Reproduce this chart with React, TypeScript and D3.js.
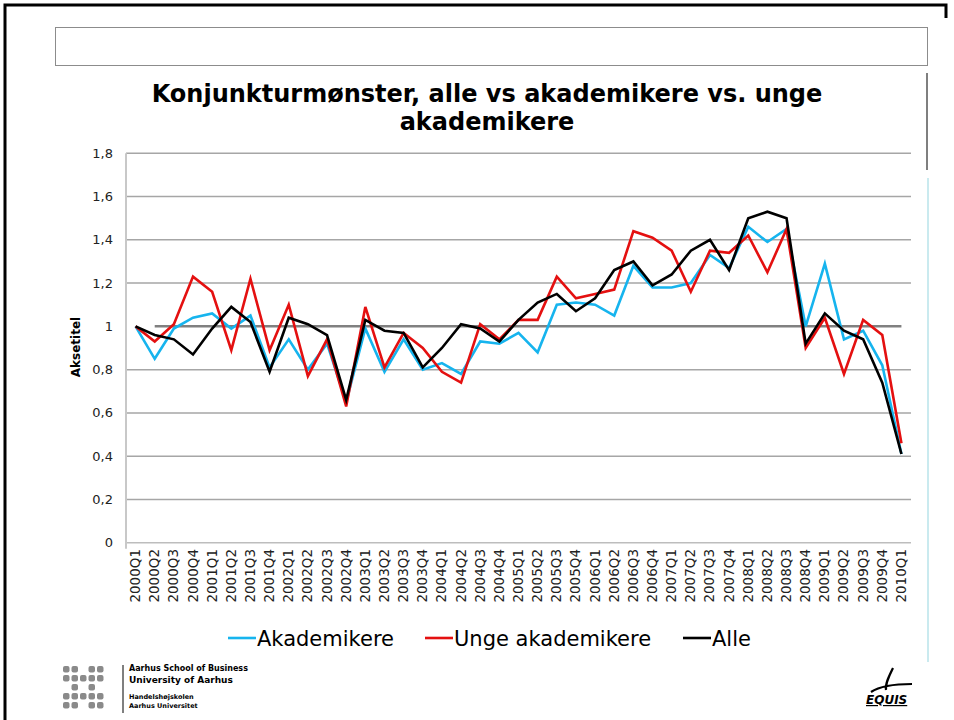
import React, { useEffect, useRef } from "react";
import * as d3 from "d3";

const quarters = [
  "2000Q1", "2000Q2", "2000Q3", "2000Q4", "2001Q1", "2001Q2", "2001Q3", "2001Q4",
  "2002Q1", "2002Q2", "2002Q3", "2002Q4", "2003Q1", "2003Q2", "2003Q3", "2003Q4",
  "2004Q1", "2004Q2", "2004Q3", "2004Q4", "2005Q1", "2005Q2", "2005Q3", "2005Q4",
  "2006Q1", "2006Q2", "2006Q3", "2006Q4", "2007Q1", "2007Q2", "2007Q3", "2007Q4",
  "2008Q1", "2008Q2", "2008Q3", "2008Q4", "2009Q1", "2009Q2", "2009Q3", "2009Q4",
  "2010Q1"
];

const akademikere = [
  1.0, 0.85, 0.99, 1.04, 1.06, 0.99, 1.05, 0.81, 0.94, 0.8, 0.92, 0.65, 0.99, 0.79,
  0.94, 0.8, 0.83, 0.78, 0.93, 0.92, 0.97, 0.88, 1.1, 1.11, 1.1, 1.05, 1.28, 1.18,
  1.18, 1.2, 1.33, 1.27, 1.46, 1.39, 1.45, 1.0, 1.29, 0.94, 0.98, 0.82, 0.41
];

const ungeAkademikere = [
  1.0, 0.93, 1.01, 1.23, 1.16, 0.89, 1.22, 0.89, 1.1, 0.77, 0.94, 0.63, 1.09, 0.81,
  0.97, 0.9, 0.79, 0.74, 1.01, 0.94, 1.03, 1.03, 1.23, 1.13, 1.15, 1.17, 1.44, 1.41,
  1.35, 1.16, 1.35, 1.34, 1.42, 1.25, 1.45, 0.9, 1.04, 0.78, 1.03, 0.96, 0.46
];

const alle = [
  1.0, 0.96, 0.94, 0.87, 0.99, 1.09, 1.02, 0.79, 1.04, 1.01, 0.96, 0.66, 1.03, 0.98,
  0.97, 0.81, 0.9, 1.01, 0.99, 0.93, 1.03, 1.11, 1.15, 1.07, 1.13, 1.26, 1.3, 1.19,
  1.24, 1.35, 1.4, 1.26, 1.5, 1.53, 1.5, 0.92, 1.06, 0.98, 0.94, 0.74, 0.41
];

// reference line at 1, starts at the second quarter
const referanse = quarters.map((q, i) => (i === 0 ? null : 1));

const yTicks = [0, 0.2, 0.4, 0.6, 0.8, 1.0, 1.2, 1.4, 1.6, 1.8];

const series = [
  { name: "Akademikere", values: akademikere, colour: "#16b4ee" },
  { name: "Unge akademikere", values: ungeAkademikere, colour: "#e41010" },
  { name: "Alle", values: alle, colour: "#000000" }
];

const font = "'DejaVu Sans', Verdana, sans-serif";

function App() {
  const svgRef = useRef<SVGSVGElement | null>(null);

  useEffect(() => {
    const svg = d3.select(svgRef.current);
    svg.selectAll("*").remove();

    const left = 126, right = 911, top = 153.3, bottom = 542.7;

    const x = d3.scaleBand().domain(quarters).range([left, right]);
    const y = d3.scaleLinear().domain([0, 1.8]).range([bottom, top]);
    const cx = (q: string) => (x(q) as number) + x.bandwidth() / 2;

    // slide frame
    svg.append("path")
      .attr("d", "M5,720 V5 H946 V18")
      .attr("fill", "none")
      .attr("stroke", "#000")
      .attr("stroke-width", 3);
    svg.append("rect")
      .attr("x", 55.5).attr("y", 27.5).attr("width", 872).attr("height", 38)
      .attr("fill", "none").attr("stroke", "#8c8c8c").attr("stroke-width", 1);
    svg.append("line")
      .attr("x1", 927).attr("x2", 927).attr("y1", 73).attr("y2", 170)
      .attr("stroke", "#555").attr("stroke-width", 1.5);
    svg.append("line")
      .attr("x1", 928).attr("x2", 928).attr("y1", 178).attr("y2", 662)
      .attr("stroke", "#b9e3ea").attr("stroke-width", 1.5);

    // title
    const title = svg.append("text")
      .attr("text-anchor", "middle")
      .attr("font-family", font)
      .attr("font-weight", "bold")
      .attr("font-size", 24)
      .attr("fill", "#000");
    title.append("tspan").attr("x", 487).attr("y", 102)
      .text("Konjunkturmønster, alle vs akademikere vs. unge");
    title.append("tspan").attr("x", 487).attr("y", 130).text("akademikere");

    // gridlines (no line at 1, the reference series sits there)
    svg.append("g")
      .selectAll("line")
      .data(yTicks.filter(t => t !== 1.0))
      .enter()
      .append("line")
      .attr("x1", left).attr("x2", right)
      .attr("y1", d => y(d)).attr("y2", d => y(d))
      .attr("stroke", d => (d === 0 ? "#bdbdbd" : "#a6a6a6"))
      .attr("stroke-width", 1.5);

    svg.append("line")
      .attr("x1", left).attr("x2", left).attr("y1", top).attr("y2", bottom + 6)
      .attr("stroke", "#c8c8c8").attr("stroke-width", 2);

    // y tick labels
    svg.append("g")
      .selectAll("text")
      .data(yTicks)
      .enter()
      .append("text")
      .attr("x", 113)
      .attr("y", d => y(d) + 4.5)
      .attr("text-anchor", "end")
      .attr("font-family", font)
      .attr("font-size", 13)
      .attr("fill", "#222")
      .text(d => (d === 0 ? "0" : d3.format(".1f")(d).replace(".", ",").replace(",0", "")));

    svg.append("text")
      .attr("transform", "translate(80,347) rotate(-90)")
      .attr("text-anchor", "middle")
      .attr("font-family", font)
      .attr("font-weight", "bold")
      .attr("font-size", 12)
      .text("Aksetitel");

    // x tick labels
    svg.append("g")
      .selectAll("text")
      .data(quarters)
      .enter()
      .append("text")
      .attr("transform", d => `translate(${cx(d) + 4.5},549) rotate(-90)`)
      .attr("text-anchor", "end")
      .attr("font-family", font)
      .attr("font-size", 13.5)
      .attr("fill", "#222")
      .text(d => d);

    const line = d3.line<number | null>()
      .defined(d => d !== null)
      .x((d, i) => cx(quarters[i]))
      .y(d => y(d as number));

    svg.append("path")
      .attr("d", line(referanse))
      .attr("fill", "none")
      .attr("stroke", "#808080")
      .attr("stroke-width", 2.5);

    series.forEach(s => {
      svg.append("path")
        .attr("d", line(s.values))
        .attr("fill", "none")
        .attr("stroke", s.colour)
        .attr("stroke-width", 2.6)
        .attr("stroke-linejoin", "miter");
    });

    // legend
    const legendX = [228, 425, 683];
    series.forEach((s, i) => {
      svg.append("line")
        .attr("x1", legendX[i]).attr("x2", legendX[i] + 28)
        .attr("y1", 638).attr("y2", 638)
        .attr("stroke", s.colour).attr("stroke-width", 2.6);
      svg.append("text")
        .attr("x", legendX[i] + 29).attr("y", 646)
        .attr("font-family", font)
        .attr("font-size", 21)
        .attr("fill", "#000")
        .text(s.name);
    });

    // footer logos
    const logo = svg.append("g").attr("fill", "#8a8a8a");
    const cells = [
      [0, 0], [1, 0], [3, 0], [4, 0],
      [0, 1], [1, 1], [2, 1], [3, 1], [4, 1],
      [1, 2], [3, 2],
      [0, 3], [1, 3], [2, 3], [3, 3], [4, 3],
      [0, 4], [1, 4], [3, 4], [4, 4]
    ];
    logo.selectAll("rect")
      .data(cells)
      .enter()
      .append("rect")
      .attr("x", d => 63 + d[0] * 8.5)
      .attr("y", d => 666 + d[1] * 9)
      .attr("width", 6.5)
      .attr("height", 6.5)
      .attr("rx", 2);
    svg.append("line")
      .attr("x1", 123).attr("x2", 123).attr("y1", 665).attr("y2", 713)
      .attr("stroke", "#000").attr("stroke-width", 1);
    const footer = [
      { t: "Aarhus School of Business", y: 671, s: 8 },
      { t: "University of Aarhus", y: 683, s: 9 },
      { t: "Handelshøjskolen", y: 699, s: 6.5 },
      { t: "Aarhus Universitet", y: 708, s: 6.5 }
    ];
    footer.forEach(f => {
      svg.append("text")
        .attr("x", 129).attr("y", f.y)
        .attr("font-family", font).attr("font-weight", "bold")
        .attr("font-size", f.s)
        .text(f.t);
    });
    svg.append("path")
      .attr("d", "M893,668 C889,676 885,684 886,690 M871,692 C880,686 896,684 912,684")
      .attr("fill", "none").attr("stroke", "#000").attr("stroke-width", 2.2);
    svg.append("text")
      .attr("x", 866).attr("y", 704)
      .attr("font-family", font).attr("font-weight", "bold").attr("font-style", "italic")
      .attr("font-size", 12)
      .attr("text-decoration", "underline")
      .text("EQUIS");
  }, []);

  return (
    <svg
      ref={svgRef}
      width={954}
      height={720}
      style={{ position: "absolute", left: 0, top: 0, background: "#fff" }}
    />
  );
}

export default App;
